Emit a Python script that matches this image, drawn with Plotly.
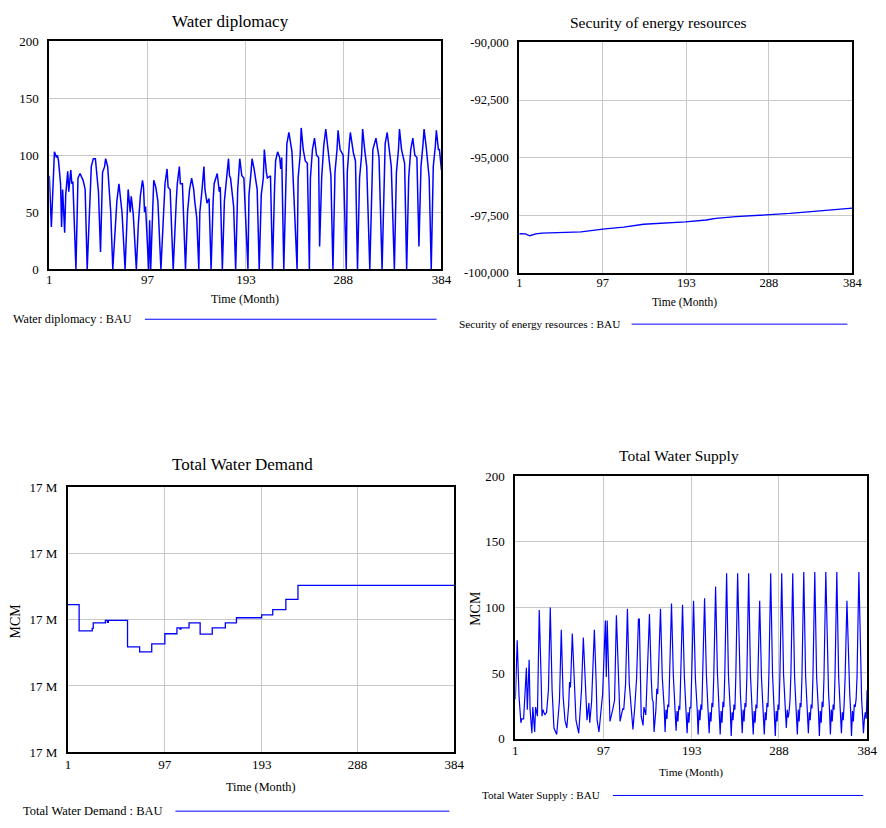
import plotly.graph_objects as go

# ---------------- data ----------------
x_ticks = [1, 97, 193, 288, 384]

# Water diplomacy : BAU  (month, value)
wd_t = [1, 3, 6, 8, 9, 10, 12, 13, 14, 16, 17, 18, 19, 20, 22, 23, 24, 27,
        29, 31, 34, 36, 38,
        42, 44, 46, 48, 49, 51,
        53, 55, 56, 58, 59, 61, 63,
        66, 67, 69, 72, 75,
        77, 78, 80, 81, 83, 86,
        88, 90, 92, 93, 94, 95, 98, 99, 100,
        103, 105, 107, 110,
        113, 114, 116, 117, 119, 120, 122,
        125, 126, 128, 129, 131, 134,
        136, 138, 140, 142, 143, 145, 147,
        148, 150, 152, 153, 155, 157, 159,
        161, 162, 165, 167, 168, 170,
        172, 174, 176, 177, 178, 181, 183,
        185, 186, 187, 189, 191, 195,
        196, 198, 199, 201, 204, 206,
        208, 210, 211, 213, 214, 217, 219,
        221, 222, 224, 226, 227, 228, 230,
        232, 233, 235, 237, 238, 243,
        244, 246, 247, 249, 251, 253, 255,
        256, 258, 260, 262, 264, 265,
        267, 269, 271, 273, 276, 278,
        280, 282, 283, 285, 288, 291,
        292, 294, 295, 298, 300, 302,
        304, 306, 307, 309, 311, 314,
        316, 317, 320, 323, 326,
        328, 329, 331, 333, 335, 338,
        340, 342, 343, 345, 348, 350,
        352, 354, 356, 358, 360, 362,
        364, 366, 367, 369, 372, 374,
        376, 378, 379, 381, 382, 384]
wd_v = [82, 37, 103, 98, 100, 95, 75, 37, 70, 32, 65, 75, 86, 68, 87, 75, 77, 0,
        80, 84, 78, 70, 0,
        90, 97, 97, 75, 68, 15,
        85, 90, 97, 90, 75, 50, 0,
        45, 60, 75, 50, 0,
        40, 70, 50, 64, 48, 0,
        40, 65, 78, 72, 50, 55, 0, 43, 0,
        78, 72, 60, 0,
        60, 75, 88, 72, 70, 50, 0,
        60, 75, 90, 75, 75, 0,
        50, 70, 80, 70, 60, 45, 0,
        50, 68, 90, 70, 58, 62, 0,
        60, 75, 84, 68, 72, 0,
        60, 80, 97, 82, 80, 55, 0,
        70, 85, 97, 82, 80, 0,
        65, 85, 97, 88, 70, 0,
        65, 80, 105, 85, 80, 82, 0,
        72, 95, 103, 98, 88, 98, 0,
        75, 110, 120, 108, 103, 0,
        80, 100, 124, 105, 95, 93, 0,
        80, 105, 115, 100, 98, 20,
        80, 108, 123, 107, 82, 0,
        85, 105, 122, 105, 100, 0,
        85, 110, 120, 102, 95, 0,
        80, 100, 123, 105, 90, 0,
        80, 105, 115, 98, 0,
        80, 110, 120, 103, 90, 0,
        85, 105, 123, 105, 93, 0,
        80, 105, 115, 100, 98, 20,
        90, 110, 123, 108, 80, 0,
        90, 108, 122, 105, 105, 87]

# Security of energy resources : BAU
se_t = [1, 8, 13, 20, 27, 72, 97, 121, 144, 192, 216, 227, 250, 288, 312, 333, 363, 384]
se_v = [-98295, -98300, -98381, -98300, -98267, -98210, -98097, -98011, -97884,
        -97784, -97699, -97628, -97557, -97486, -97415, -97344, -97244, -97188]

# Total Water Demand : BAU (step changes, MCM)
td_t = [1, 12, 25, 26, 38, 40, 41, 60, 72, 84, 97, 109, 112, 113, 121, 132,
        144, 157, 168, 193, 204, 217, 229, 384]
td_v = [17004530, 16996650, 16997400, 16999020, 16999800, 16999200, 16999800,
        16991790, 16990310, 16992680, 16995760, 16997540, 16997130, 16997540,
        16999020, 16995640, 16997540, 16999020, 17000590, 17001480, 17003050,
        17006130, 17010370, 17010370]
td_ticks = [16960000, 16980000, 17000000, 17020000, 17040000]
td_ticktext = ["17 M", "17 M", "17 M", "17 M", "17 M"]

# Total Water Supply : BAU
ws_t = [1, 3, 5, 7, 8, 10, 13, 14, 16, 17, 19, 20, 22, 23, 25, 27, 29, 30, 31, 33, 35, 37,
        39, 41, 43, 45, 46, 49, 51, 53, 55, 57, 59, 60, 61, 63, 65, 67, 70, 71, 73,
        75, 77, 79, 81, 82, 84, 87, 89, 90, 92, 95, 96, 99, 100, 101, 103, 104, 107,
        109, 111, 113, 115, 118, 119, 121, 123, 125, 129, 131, 133,
        135, 136, 138, 140, 141, 143, 144,
        147, 149, 150, 151, 152, 154, 155, 156,
        159, 161, 162, 163, 164, 165, 166, 167, 168, 169,
        171, 173, 174, 175, 176, 177, 178, 179, 180, 181,
        183, 185, 186, 187, 188, 189, 190, 191, 192, 193,
        195, 197, 198, 199, 200, 201, 202, 203, 204, 205,
        207, 209, 210, 211, 212, 213, 214, 215, 216, 217,
        219, 221, 222, 223, 224, 225, 226, 227, 228, 229,
        231, 233, 234, 235, 236, 237, 238, 239, 240, 241,
        243, 245, 246, 247, 248, 249, 250, 251, 252, 253,
        255, 257, 258, 259, 260, 261, 262, 263, 264, 265,
        267, 269, 270, 271, 272, 273, 274, 275, 276, 277,
        279, 281, 282, 283, 284, 285, 286, 287, 288, 289,
        291, 293, 294, 295, 296, 297, 298, 299, 300, 301,
        303, 305, 306, 307, 308, 309, 310, 311, 312, 313,
        315, 317, 318, 319, 320, 321, 322, 323, 324, 325,
        327, 329, 330, 331, 332, 333, 334, 335, 336, 337,
        339, 341, 342, 343, 344, 345, 346, 347, 348, 349,
        351, 353, 354, 355, 356, 357, 358, 359, 360,
        362, 364, 365, 366, 367, 368, 369, 370, 371, 372, 373,
        375, 377, 378, 379, 380, 381, 382, 383, 384]
ws_v = [30, 75, 32, 12, 15, 15, 54, 22, 60, 22, 4, 24, 5, 24, 17, 98, 47, 17, 22, 18, 20, 37,
        100, 37, 8, 4, 3, 29, 83, 32, 14, 8, 25, 43, 39, 80, 42, 14, 4, 14, 37,
        77, 39, 14, 27, 12, 28, 83, 42, 14, 5, 29, 34, 90, 47, 90, 29, 13, 22,
        29, 94, 44, 13, 23, 22, 42, 99, 42, 7, 24, 46,
        91, 91, 17, 10, 24, 18, 37,
        95, 45, 30, 28, 5, 22, 38, 34,
        99, 46, 36, 24, 5, 22, 15, 26, 24, 45,
        103, 48, 34, 22, 6, 21, 13, 25, 22, 47,
        102, 47, 35, 20, 4, 20, 12, 24, 23, 48,
        105, 46, 36, 22, 3, 22, 14, 26, 22, 46,
        107, 48, 33, 21, 4, 20, 13, 27, 24, 47,
        116, 50, 35, 20, 3, 21, 12, 28, 24, 48,
        126, 48, 36, 22, 2, 20, 14, 26, 22, 47,
        126, 47, 34, 21, 4, 22, 13, 27, 24, 46,
        126, 48, 35, 20, 3, 21, 12, 26, 23, 45,
        105, 46, 34, 22, 3, 20, 14, 27, 24, 48,
        126, 49, 36, 22, 2, 21, 13, 26, 22, 47,
        126, 49, 32, 24, 8, 22, 16, 20, 29, 49,
        126, 47, 35, 21, 3, 22, 13, 27, 24, 46,
        127, 48, 34, 22, 4, 20, 14, 26, 23, 47,
        127, 47, 36, 21, 2, 21, 12, 28, 24, 46,
        127, 48, 35, 22, 3, 22, 13, 26, 22, 47,
        127, 47, 34, 21, 4, 20, 14, 27, 46,
        105, 46, 35, 22, 2, 21, 13, 26, 24, 30, 47,
        127, 45, 30, 18, 4, 15, 20, 15, 37]

# ---------------- layout helpers ----------------
FONT = "Liberation Serif, Times New Roman, serif"
W, H = 886, 828
BLUE = "#0000ff"
GRID = "#c8c8c8"


def dx(p):
    return p / W


def dy(p):
    return 1 - p / H


def xaxis(box, anchor, fs, standoff):
    return dict(domain=[dx(box[0]), dx(box[1])], anchor=anchor, range=[1, 384],
                tickmode="array", tickvals=x_ticks, ticktext=[str(v) for v in x_ticks],
                showline=True, linecolor="black", linewidth=2, mirror=True,
                showgrid=True, gridcolor=GRID, gridwidth=1, zeroline=False,
                ticks="", ticklen=0, ticklabelstandoff=standoff,
                tickfont=dict(family=FONT, size=fs, color="black"), fixedrange=True)


def yaxis(box, anchor, rng, tv, tt, fs):
    return dict(domain=[dy(box[1]), dy(box[0])], anchor=anchor, range=rng,
                tickmode="array", tickvals=tv, ticktext=tt,
                showline=True, linecolor="black", linewidth=2, mirror=True,
                showgrid=True, gridcolor=GRID, gridwidth=1, zeroline=False,
                ticks="", ticklen=0, ticklabelstandoff=6,
                tickfont=dict(family=FONT, size=fs, color="black"), fixedrange=True)


fig = go.Figure()
line_kw = dict(mode="lines", showlegend=False, hoverinfo="skip")
fig.add_trace(go.Scatter(x=wd_t, y=wd_v, line=dict(color=BLUE, width=1.5), xaxis="x", yaxis="y", **line_kw))
fig.add_trace(go.Scatter(x=se_t, y=se_v, line=dict(color=BLUE, width=1.3), xaxis="x2", yaxis="y2", **line_kw))
fig.add_trace(go.Scatter(x=td_t, y=td_v, line=dict(color=BLUE, width=1.3, shape="hv"), xaxis="x3", yaxis="y3", **line_kw))
fig.add_trace(go.Scatter(x=ws_t, y=ws_v, line=dict(color=BLUE, width=1.2), xaxis="x4", yaxis="y4", **line_kw))

y1_ticks = [0, 50, 100, 150, 200]
y2_ticks = [-100000, -97500, -95000, -92500, -90000]
y2_text = ["-100,000", "-97,500", "-95,000", "-92,500", "-90,000"]

annotations = []


def note(text, x, y, size, xanchor="center", angle=0):
    annotations.append(dict(text=text, x=dx(x), y=dy(y), xref="paper", yref="paper",
                            xanchor=xanchor, yanchor="middle", showarrow=False, textangle=angle,
                            font=dict(family=FONT, size=size, color="black")))


# titles
note("Water diplomacy", 231, 15, 17)
note("Security of energy resources", 665, 16, 15.5)
note("Total Water Demand", 243, 466, 17)
note("Total Water Supply", 686, 457, 15.5)
# axis titles
note("Time (Month)", 245.5, 297, 12)
note("Time (Month)", 692, 301, 11.5)
note("Time (Month)", 262, 794, 12.3)
note("Time (Month)", 698.5, 780, 11.3)
note("MCM", 13, 625, 14, angle=-90)
note("MCM", 480, 612, 14, angle=-90)
# legends
note("Water diplomacy : BAU", 8, 318, 12.2, xanchor="left")
note("Security of energy resources : BAU", 461, 323, 11.3, xanchor="left")
note("Total Water Demand : BAU", 18, 819, 12.5, xanchor="left")
note("Total Water Supply : BAU", 484, 803, 11.1, xanchor="left")

shapes = []
for x0, x1, y in [(144, 440, 318), (638, 857, 323), (175, 453, 819), (619, 873, 803)]:
    shapes.append(dict(type="line", xref="paper", yref="paper", x0=dx(x0), x1=dx(x1),
                       y0=dy(y), y1=dy(y), line=dict(color=BLUE, width=1)))

fig.update_layout(
    width=W, height=H, margin=dict(l=0, r=0, t=0, b=0),
    paper_bgcolor="white", plot_bgcolor="white", showlegend=False,
    font=dict(family=FONT, color="black"),
    xaxis=xaxis((47, 445), "y", 13, -3),
    yaxis=yaxis((35, 267), "x", [0, 200], y1_ticks, [str(v) for v in y1_ticks], 13),
    xaxis2=xaxis((524, 862), "y2", 12.5, -3),
    yaxis2=yaxis((36, 271), "x2", [-100000, -90000], y2_ticks, y2_text, 12.5),
    xaxis3=xaxis((66, 458), "y3", 13, -1),
    yaxis3=yaxis((489, 759), "x3", [16960000, 17040000], td_ticks, td_ticktext, 13),
    xaxis4=xaxis((520, 877), "y4", 13, -1),
    yaxis4=yaxis((478, 745), "x4", [0, 200], y1_ticks, [str(v) for v in y1_ticks], 13),
    annotations=annotations, shapes=shapes,
)

fig.write_html("out.html")
